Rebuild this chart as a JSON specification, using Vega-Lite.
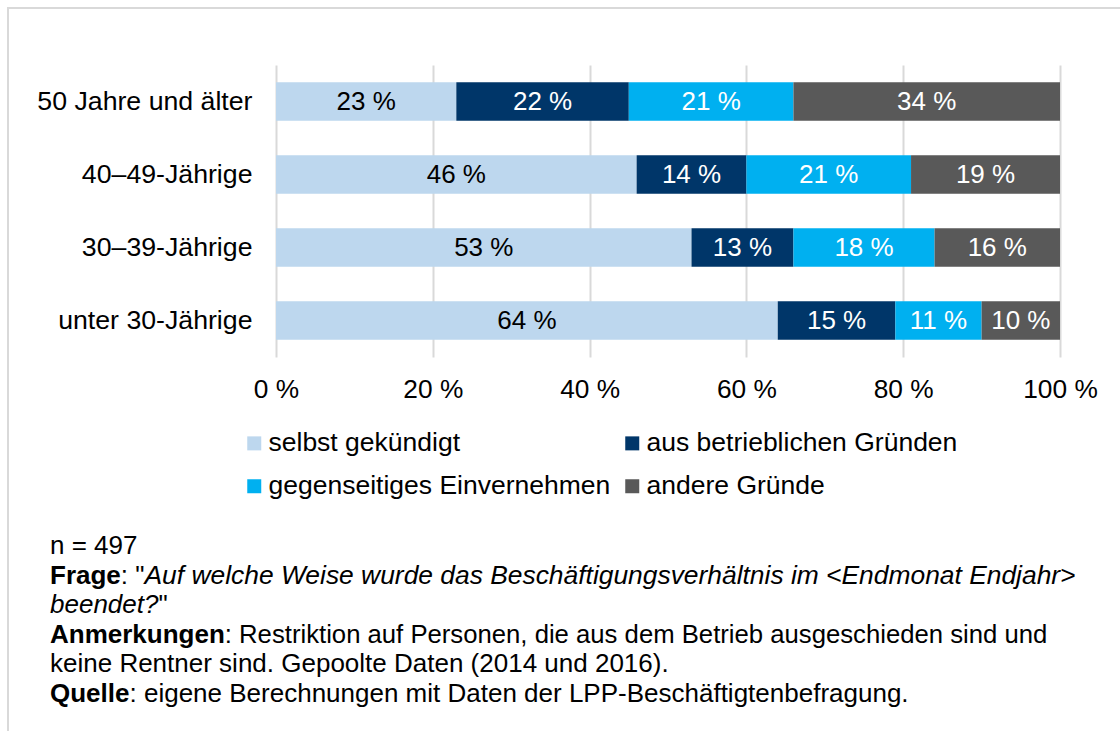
{
  "$schema": "https://vega.github.io/schema/vega-lite/v6.json",
  "width": 784,
  "height": 292,
  "autosize": {"type": "none"},
  "padding": {"left": 276, "top": 65, "right": 60, "bottom": 374},
  "background": "white",
  "config": {"font": "Liberation Sans", "view": {"stroke": null}},
  "data": {
    "values": [
      {"group": "50 Jahre und älter", "reason": "selbst gekündigt", "value": 23},
      {"group": "50 Jahre und älter", "reason": "aus betrieblichen Gründen", "value": 22},
      {"group": "50 Jahre und älter", "reason": "gegenseitiges Einvernehmen", "value": 21},
      {"group": "50 Jahre und älter", "reason": "andere Gründe", "value": 34},
      {"group": "40–49-Jährige", "reason": "selbst gekündigt", "value": 46},
      {"group": "40–49-Jährige", "reason": "aus betrieblichen Gründen", "value": 14},
      {"group": "40–49-Jährige", "reason": "gegenseitiges Einvernehmen", "value": 21},
      {"group": "40–49-Jährige", "reason": "andere Gründe", "value": 19},
      {"group": "30–39-Jährige", "reason": "selbst gekündigt", "value": 53},
      {"group": "30–39-Jährige", "reason": "aus betrieblichen Gründen", "value": 13},
      {"group": "30–39-Jährige", "reason": "gegenseitiges Einvernehmen", "value": 18},
      {"group": "30–39-Jährige", "reason": "andere Gründe", "value": 16},
      {"group": "unter 30-Jährige", "reason": "selbst gekündigt", "value": 64},
      {"group": "unter 30-Jährige", "reason": "aus betrieblichen Gründen", "value": 15},
      {"group": "unter 30-Jährige", "reason": "gegenseitiges Einvernehmen", "value": 11},
      {"group": "unter 30-Jährige", "reason": "andere Gründe", "value": 10}
    ]
  },
  "transform": [
    {"calculate": "indexof(['selbst gekündigt','aus betrieblichen Gründen','gegenseitiges Einvernehmen','andere Gründe'], datum.reason)", "as": "k"},
    {"stack": "value", "groupby": ["group"], "sort": [{"field": "k", "order": "ascending"}], "as": ["v0", "v1"]},
    {"calculate": "(datum.v0 + datum.v1) / 2", "as": "mid"},
    {"calculate": "datum.value + ' %'", "as": "label"}
  ],
  "layer": [
    {
      "data": {"values": [{}]},
      "mark": {"type": "rect", "x": -268, "y": -57, "x2": 900, "y2": 700, "fill": null, "stroke": "#d9d9d9", "strokeWidth": 2},
      "encoding": {}
    },
    {
      "mark": {"type": "bar"},
      "encoding": {
        "y": {
          "field": "group", "type": "nominal",
          "sort": ["50 Jahre und älter", "40–49-Jährige", "30–39-Jährige", "unter 30-Jährige"],
          "scale": {"type": "band", "paddingInner": 0.47, "paddingOuter": 0.235},
          "axis": {"title": null, "domain": false, "ticks": false, "tickSize": 0, "labelFontSize": 26.7, "labelPadding": 24, "labelColor": "black", "labelLimit": 400}
        },
        "x": {
          "field": "v0", "type": "quantitative",
          "scale": {"domain": [0, 100], "nice": false},
          "axis": {"title": null, "values": [0, 20, 40, 60, 80, 100], "labelExpr": "datum.value + ' %'", "grid": true, "gridColor": "#d9d9d9", "gridWidth": 2, "domain": false, "ticks": false, "tickSize": 0, "labelFontSize": 26.3, "labelPadding": 19, "labelColor": "black", "labelFlush": false, "labelOverlap": false}
        },
        "x2": {"field": "v1"},
        "color": {
          "field": "reason", "type": "nominal",
          "scale": {
            "domain": ["selbst gekündigt", "aus betrieblichen Gründen", "gegenseitiges Einvernehmen", "andere Gründe"],
            "range": ["#BDD7EE", "#003669", "#00B0F0", "#595959"]
          },
          "legend": {"orient": "none", "direction": "horizontal", "legendX": -35, "legendY": 365, "columns": 2, "title": null, "symbolType": "square", "symbolSize": 196, "symbolStrokeWidth": 0, "labelFontSize": 26.5, "labelOffset": 1, "columnPadding": 8, "rowPadding": 16, "labelLimit": 600, "padding": 0, "labelColor": "black"}
        }
      }
    },
    {
      "mark": {"type": "text", "fontSize": 26, "align": "center", "baseline": "middle"},
      "encoding": {
        "y": {"field": "group", "type": "nominal", "sort": ["50 Jahre und älter", "40–49-Jährige", "30–39-Jährige", "unter 30-Jährige"]},
        "x": {"field": "mid", "type": "quantitative", "title": null},
        "text": {"field": "label"},
        "color": {"condition": {"test": "datum.reason === 'selbst gekündigt'", "value": "black"}, "value": "white"}
      }
    },
    {"data": {"values": [{}]}, "mark": {"type": "text", "text": "n = 497", "align": "left", "baseline": "alphabetic", "fontSize": 26, "color": "black", "x": -226, "y": 489}, "encoding": {}},
    {"data": {"values": [{}]}, "mark": {"type": "text", "text": "Frage", "fontWeight": "bold", "align": "left", "baseline": "alphabetic", "fontSize": 26, "color": "black", "x": -226, "y": 518.5}, "encoding": {}},
    {"data": {"values": [{}]}, "mark": {"type": "text", "text": ": \"", "align": "left", "baseline": "alphabetic", "fontSize": 26, "color": "black", "x": -155.2, "y": 518.5}, "encoding": {}},
    {"data": {"values": [{}]}, "mark": {"type": "text", "text": "Auf welche Weise wurde das Beschäftigungsverhältnis im <Endmonat Endjahr>", "fontStyle": "italic", "align": "left", "baseline": "alphabetic", "fontSize": 26.4, "color": "black", "x": -131.5, "y": 518.5}, "encoding": {}},
    {"data": {"values": [{}]}, "mark": {"type": "text", "text": "beendet?", "fontStyle": "italic", "align": "left", "baseline": "alphabetic", "fontSize": 26, "color": "black", "x": -226, "y": 548}, "encoding": {}},
    {"data": {"values": [{}]}, "mark": {"type": "text", "text": "\"", "align": "left", "baseline": "alphabetic", "fontSize": 26, "color": "black", "x": -117.6, "y": 548}, "encoding": {}},
    {"data": {"values": [{}]}, "mark": {"type": "text", "text": "Anmerkungen", "fontWeight": "bold", "align": "left", "baseline": "alphabetic", "fontSize": 26, "color": "black", "x": -226, "y": 577.5}, "encoding": {}},
    {"data": {"values": [{}]}, "mark": {"type": "text", "text": ": Restriktion auf Personen, die aus dem Betrieb ausgeschieden sind und", "align": "left", "baseline": "alphabetic", "fontSize": 25.7, "color": "black", "x": -51.2, "y": 577.5}, "encoding": {}},
    {"data": {"values": [{}]}, "mark": {"type": "text", "text": "keine Rentner sind. Gepoolte Daten (2014 und 2016).", "align": "left", "baseline": "alphabetic", "fontSize": 26, "color": "black", "x": -226, "y": 607}, "encoding": {}},
    {"data": {"values": [{}]}, "mark": {"type": "text", "text": "Quelle", "fontWeight": "bold", "align": "left", "baseline": "alphabetic", "fontSize": 26, "color": "black", "x": -226, "y": 636.5}, "encoding": {}},
    {"data": {"values": [{}]}, "mark": {"type": "text", "text": ": eigene Berechnungen mit Daten der LPP-Beschäftigtenbefragung.", "align": "left", "baseline": "alphabetic", "fontSize": 26, "color": "black", "x": -146.5, "y": 636.5}, "encoding": {}}
  ]
}
